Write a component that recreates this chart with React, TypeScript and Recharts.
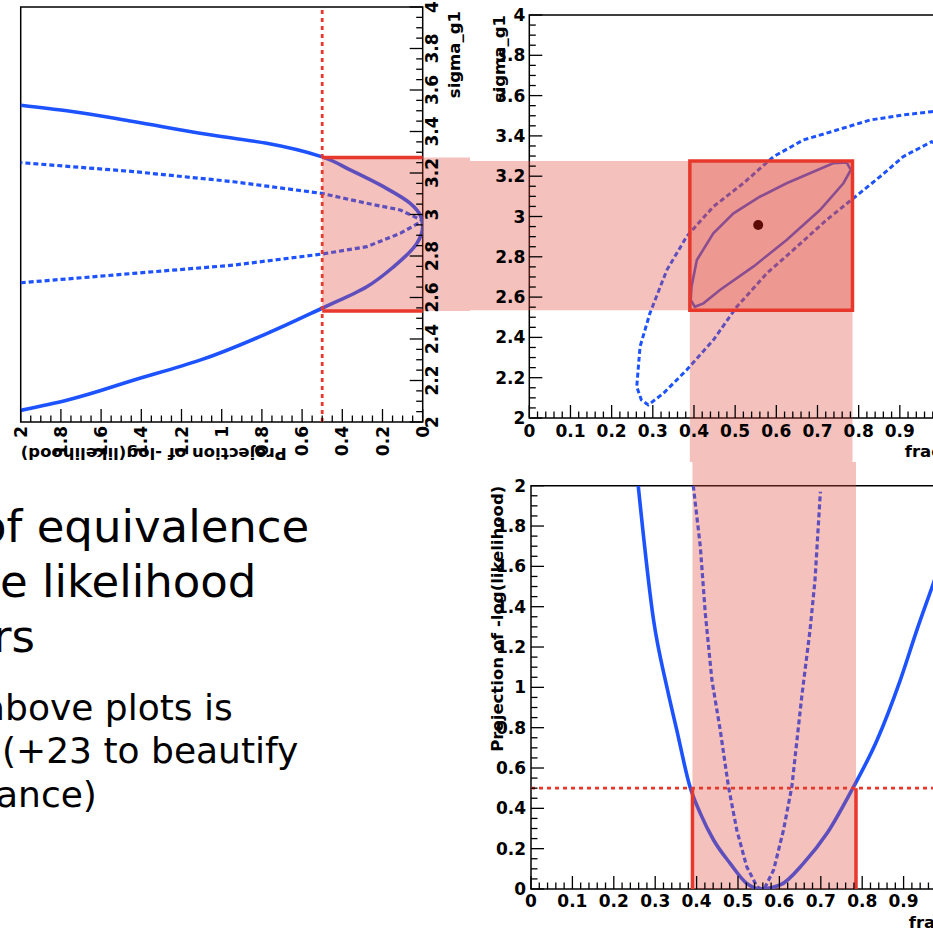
import { ComposedChart, Line, XAxis, YAxis, ReferenceArea, ReferenceLine, Scatter } from "recharts";

// -log(L) projected on sigma_g1: profile (solid) and plain scan (dotted)  [sigma, nll]
const sigmaProfile: [number, number][] = [
  [2.056, 2.0], [2.105, 1.771], [2.201, 1.44], [2.298, 1.108], [2.426, 0.776], [2.547, 0.504],
  [2.652, 0.278], [2.748, 0.145], [2.861, 0.029], [2.94, 0.0], [2.99, 0.009], [3.054, 0.062],
  [3.134, 0.195], [3.215, 0.361], [3.279, 0.504], [3.343, 0.776], [3.392, 1.108], [3.448, 1.44],
  [3.5, 1.771], [3.527, 2.0],
];
const sigmaScan: [number, number][] = [
  [2.671, 2.0], [2.716, 1.44], [2.756, 0.942], [2.809, 0.504], [2.845, 0.278], [2.909, 0.112],
  [2.97, 0.0], [3.022, 0.112], [3.054, 0.278], [3.102, 0.504], [3.158, 0.942], [3.207, 1.44], [3.25, 2.0],
];

// -log(L) projected on frac  [frac, nll]
const fracProfile: [number, number][] = [
  [0.259, 2.0], [0.296, 1.334], [0.328, 1.003], [0.352, 0.789], [0.384, 0.507], [0.409, 0.375],
  [0.441, 0.243], [0.481, 0.127], [0.521, 0.028], [0.556, 0.0], [0.602, 0.02], [0.658, 0.127],
  [0.715, 0.276], [0.775, 0.491], [0.836, 0.739], [0.892, 1.036], [0.932, 1.284], [0.969, 1.499], [1.0, 1.68],
];
const fracScan: [number, number][] = [
  [0.392, 2.0], [0.409, 1.698], [0.421, 1.367], [0.437, 1.036], [0.457, 0.789], [0.477, 0.507],
  [0.497, 0.293], [0.521, 0.111], [0.546, 0.011], [0.556, 0.0], [0.566, 0.011], [0.586, 0.094],
  [0.61, 0.293], [0.63, 0.507], [0.654, 0.954], [0.674, 1.284], [0.686, 1.532], [0.699, 1.97],
];

// contours in (frac, sigma_g1)
const innerContour: [number, number][] = [
  [0.394, 2.652], [0.407, 2.784], [0.447, 2.917], [0.496, 3.016], [0.56, 3.098], [0.625, 3.165],
  [0.69, 3.222], [0.738, 3.264], [0.771, 3.268], [0.781, 3.231], [0.763, 3.165], [0.706, 3.032],
  [0.625, 2.883], [0.544, 2.751], [0.463, 2.635], [0.423, 2.569], [0.402, 2.552], [0.392, 2.586],
];
const outerContour: [number, number][] = [
  [1.0, 3.524], [0.977, 3.52], [0.908, 3.504], [0.828, 3.479], [0.747, 3.429], [0.666, 3.38],
  [0.593, 3.297], [0.52, 3.165], [0.447, 3.049], [0.382, 2.9], [0.334, 2.734], [0.293, 2.52],
  [0.269, 2.354], [0.261, 2.155], [0.272, 2.09], [0.289, 2.065], [0.326, 2.123], [0.382, 2.238],
  [0.447, 2.387], [0.504, 2.552], [0.577, 2.718], [0.65, 2.85], [0.722, 2.983], [0.787, 3.09],
  [0.852, 3.198], [0.908, 3.297], [0.977, 3.371], [1.0, 3.35],
];
const bestFit: [number, number][] = [[0.556, 2.958]];

// error intervals (-log L + 0.5)
const NLL_UP = 0.5;
const FRAC_LO = 0.39;
const FRAC_HI = 0.785;
const SIGMA_LO = 2.535;
const SIGMA_HI = 3.275;

const FRAC_MAJORS = [0, 0.1, 0.2, 0.3, 0.4, 0.5, 0.6, 0.7, 0.8, 0.9, 1];
const SIGMA_MAJORS = [2, 2.2, 2.4, 2.6, 2.8, 3, 3.2, 3.4, 3.6, 3.8, 4];
const NLL_MAJORS = [0, 0.2, 0.4, 0.6, 0.8, 1, 1.2, 1.4, 1.6, 1.8, 2];

const headingLines = ["of equivalence", "e likelihood", "rs"];
const bodyLines = ["above plots is", "(+23 to beautify", "ance)"];

const BLUE = "#1d52ff";
const RED = "#e8382c";
const BAND = "#e0483c";
const BAND_OPACITY = 0.34;

const TICK_FONT = { fontFamily: "DejaVu Sans", fontWeight: 700, fontSize: 17, fill: "#000" };
const TITLE_FONT = { fontFamily: "DejaVu Sans", fontWeight: 700, fontSize: 16.5, fill: "#000" };

const pts = (a: [number, number][]) => a.map(([x, y]) => ({ x, y }));

const subdivide = (majors: number[], n: number) => {
  const out: number[] = [];
  for (let i = 0; i < majors.length - 1; i++) {
    for (let k = 0; k < n; k++) {
      out.push(Math.round((majors[i] + ((majors[i + 1] - majors[i]) * k) / n) * 1000) / 1000);
    }
  }
  out.push(majors[majors.length - 1]);
  return out;
};

const isMajor = (v: number, majors: number[]) => majors.some((m) => Math.abs(m - v) < 1e-6);
const fmt = (v: number) => String(Math.round(v * 100) / 100);

// ROOT style: ticks point into the frame, minor ticks shorter
const bottomTick = (majors: number[], gap: number) => (p: any) => {
  const v = p.payload.value;
  const big = isMajor(v, majors);
  return (
    <g>
      <line x1={p.x} x2={p.x} y1={p.y} y2={p.y - (big ? 13 : 6.5)} stroke="#000" strokeWidth={1.3} />
      {big && (
        <text x={p.x} y={p.y + gap} textAnchor="middle" {...TICK_FONT}>
          {fmt(v)}
        </text>
      )}
    </g>
  );
};

const leftTick = (majors: number[], gap: number) => (p: any) => {
  const v = p.payload.value;
  const big = isMajor(v, majors);
  return (
    <g>
      <line x1={p.x} x2={p.x + (big ? 13 : 6.5)} y1={p.y} y2={p.y} stroke="#000" strokeWidth={1.3} />
      {big && (
        <text x={p.x - gap} y={p.y} textAnchor="end" dominantBaseline="central" {...TICK_FONT}>
          {fmt(v)}
        </text>
      )}
    </g>
  );
};

const xTitle = (text: string, inset: number, drop: number) => (p: any) => {
  const vb = p.viewBox;
  return (
    <text x={vb.x + vb.width - inset} y={vb.y + drop} textAnchor="end" {...TITLE_FONT}>
      {text}
    </text>
  );
};

const yTitle = (text: string, offset: number) => (p: any) => {
  const vb = p.viewBox;
  const cx = vb.x + vb.width - offset;
  const top = vb.y;
  return (
    <text x={cx} y={top} transform={`rotate(-90 ${cx} ${top})`} textAnchor="end" dominantBaseline="central" {...TITLE_FONT}>
      {text}
    </text>
  );
};

const solid = { dataKey: "y", stroke: BLUE, strokeWidth: 3.6, dot: false, activeDot: false, isAnimationActive: false } as const;
const dotted = { ...solid, strokeWidth: 3.2, strokeDasharray: "5 3" } as const;

function SigmaProjection() {
  // drawn upright (sigma on x), then turned a quarter left
  return (
    <ComposedChart width={470} height={470} margin={{ top: 20.7, right: 7, bottom: 0, left: 0 }}>
      <XAxis type="number" dataKey="x" domain={[2, 4]} allowDataOverflow ticks={subdivide(SIGMA_MAJORS, 4)} interval={0}
        tickSize={0} tickMargin={0} axisLine={false} tickLine={false} height={47.3}
        tick={bottomTick(SIGMA_MAJORS, 15)} label={xTitle("sigma_g1", 4, 37)} />
      <YAxis type="number" domain={[0, 2]} allowDataOverflow ticks={subdivide(NLL_MAJORS, 4)} interval={0}
        tickSize={0} tickMargin={0} axisLine={false} tickLine={false} width={48}
        tick={leftTick(NLL_MAJORS, 4)} label={yTitle("Projection of -log(likelihood)", 31)} />
      <ReferenceArea x1={2} x2={4} y1={0} y2={2} fill="none" stroke="#000" strokeWidth={1.5} ifOverflow="visible" />
      <Line data={pts(sigmaScan)} type="linear" {...dotted} />
      <Line data={pts(sigmaProfile)} type="monotone" {...solid} />
      <ReferenceArea x1={SIGMA_LO} x2={SIGMA_HI} y1={-10} y2={NLL_UP} fill={BAND} fillOpacity={BAND_OPACITY}
        stroke="none" ifOverflow="visible" zIndex={1500} />
      <ReferenceLine y={NLL_UP} stroke={RED} strokeWidth={2.8} strokeDasharray="4 4" ifOverflow="visible" zIndex={1600} />
      <ReferenceLine segment={[{ x: SIGMA_LO, y: 0 }, { x: SIGMA_LO, y: NLL_UP }]} stroke={RED} strokeWidth={3.5}
        ifOverflow="visible" zIndex={1600} />
      <ReferenceLine segment={[{ x: SIGMA_HI, y: 0 }, { x: SIGMA_HI, y: NLL_UP }]} stroke={RED} strokeWidth={3.5}
        ifOverflow="visible" zIndex={1600} />
    </ComposedChart>
  );
}

function ContourPlot() {
  return (
    <ComposedChart width={481} height={462} margin={{ top: 15, right: 10, bottom: 0, left: 0 }}>
      <XAxis type="number" dataKey="x" domain={[0, 1]} allowDataOverflow ticks={subdivide(FRAC_MAJORS, 5)} interval={0}
        tickSize={0} tickMargin={0} axisLine={false} tickLine={false} height={44}
        tick={bottomTick(FRAC_MAJORS, 19)} label={xTitle("frac", 0, 39)} />
      <YAxis type="number" domain={[2, 4]} allowDataOverflow ticks={subdivide(SIGMA_MAJORS, 4)} interval={0}
        tickSize={0} tickMargin={0} axisLine={false} tickLine={false} width={59.3}
        tick={leftTick(SIGMA_MAJORS, 4)} label={yTitle("sigma_g1", 30.3)} />
      <ReferenceArea x1={0} x2={1} y1={2} y2={4} fill="none" stroke="#000" strokeWidth={1.5} ifOverflow="visible" />
      <Line data={pts(outerContour)} type="linear" {...dotted} strokeWidth={3} />
      <Line data={pts(innerContour)} type="linearClosed" {...solid} strokeWidth={2.6} />
      <ReferenceArea x1={-10} x2={FRAC_HI} y1={SIGMA_LO} y2={SIGMA_HI} fill={BAND} fillOpacity={BAND_OPACITY}
        stroke="none" ifOverflow="visible" zIndex={1500} />
      <ReferenceArea x1={FRAC_LO} x2={FRAC_HI} y1={-10} y2={SIGMA_HI} fill={BAND} fillOpacity={BAND_OPACITY}
        stroke="none" ifOverflow="visible" zIndex={1500} />
      <ReferenceArea x1={FRAC_LO} x2={FRAC_HI} y1={SIGMA_LO} y2={SIGMA_HI} fill="none" stroke={RED} strokeWidth={3.5}
        ifOverflow="visible" zIndex={1600} />
      <Scatter data={pts(bestFit)} dataKey="y" isAnimationActive={false} zIndex={1700}
        shape={(p: any) => <circle cx={p.cx} cy={p.cy} r={5} fill="#5e0c08" />} />
    </ComposedChart>
  );
}

function FracProjection() {
  return (
    <ComposedChart width={485} height={469} margin={{ top: 23.7, right: 10, bottom: 0, left: 0 }}>
      <XAxis type="number" dataKey="x" domain={[0, 1]} allowDataOverflow ticks={subdivide(FRAC_MAJORS, 5)} interval={0}
        tickSize={0} tickMargin={0} axisLine={false} tickLine={false} height={42}
        tick={bottomTick(FRAC_MAJORS, 18)} label={xTitle("frac", 0, 39)} />
      <YAxis type="number" domain={[0, 2]} allowDataOverflow ticks={subdivide(NLL_MAJORS, 4)} interval={0}
        tickSize={0} tickMargin={0} axisLine={false} tickLine={false} width={61}
        tick={leftTick(NLL_MAJORS, 5)} label={yTitle("Projection of -log(likelihood)", 33.5)} />
      <ReferenceArea x1={0} x2={1} y1={0} y2={2} fill="none" stroke="#000" strokeWidth={1.5} ifOverflow="visible" />
      <Line data={pts(fracScan)} type="linear" {...dotted} />
      <Line data={pts(fracProfile)} type="monotone" {...solid} />
      <ReferenceArea x1={FRAC_LO} x2={FRAC_HI} y1={0} y2={10} fill={BAND} fillOpacity={BAND_OPACITY}
        stroke="none" ifOverflow="visible" zIndex={1500} />
      <ReferenceLine y={NLL_UP} stroke={RED} strokeWidth={2.8} strokeDasharray="4 4" ifOverflow="visible" zIndex={1600} />
      <ReferenceLine segment={[{ x: FRAC_LO, y: 0 }, { x: FRAC_LO, y: NLL_UP }]} stroke={RED} strokeWidth={3.5}
        ifOverflow="visible" zIndex={1600} />
      <ReferenceLine segment={[{ x: FRAC_HI, y: 0 }, { x: FRAC_HI, y: NLL_UP }]} stroke={RED} strokeWidth={3.5}
        ifOverflow="visible" zIndex={1600} />
    </ComposedChart>
  );
}

function SlideText() {
  const headX = [-21, 0, -7];
  const bodyX = [-17, 2, -4];
  return (
    <svg width={470} height={469} style={{ position: "absolute", left: 0, top: 462 }}>
      {headingLines.map((t, i) => (
        <text key={t} x={headX[i]} y={80 + i * 55} fontFamily="DejaVu Sans" fontSize={45} fill="#000">{t}</text>
      ))}
      {bodyLines.map((t, i) => (
        <text key={t} x={bodyX[i]} y={258 + i * 43.4} fontFamily="DejaVu Sans" fontSize={36} fill="#000">{t}</text>
      ))}
    </svg>
  );
}

export default function App() {
  return (
    <div style={{ position: "fixed", left: 0, top: 0, width: 933, height: 931, overflow: "hidden", background: "#fff" }}>
      <div style={{ position: "absolute", left: 0, top: 470, width: 470, height: 470, transform: "rotate(-90deg)", transformOrigin: "0 0" }}>
        <SigmaProjection />
      </div>
      <div style={{ position: "absolute", left: 470, top: 0 }}>
        <ContourPlot />
      </div>
      <div style={{ position: "absolute", left: 470, top: 462 }}>
        <FracProjection />
      </div>
      <SlideText />
    </div>
  );
}
